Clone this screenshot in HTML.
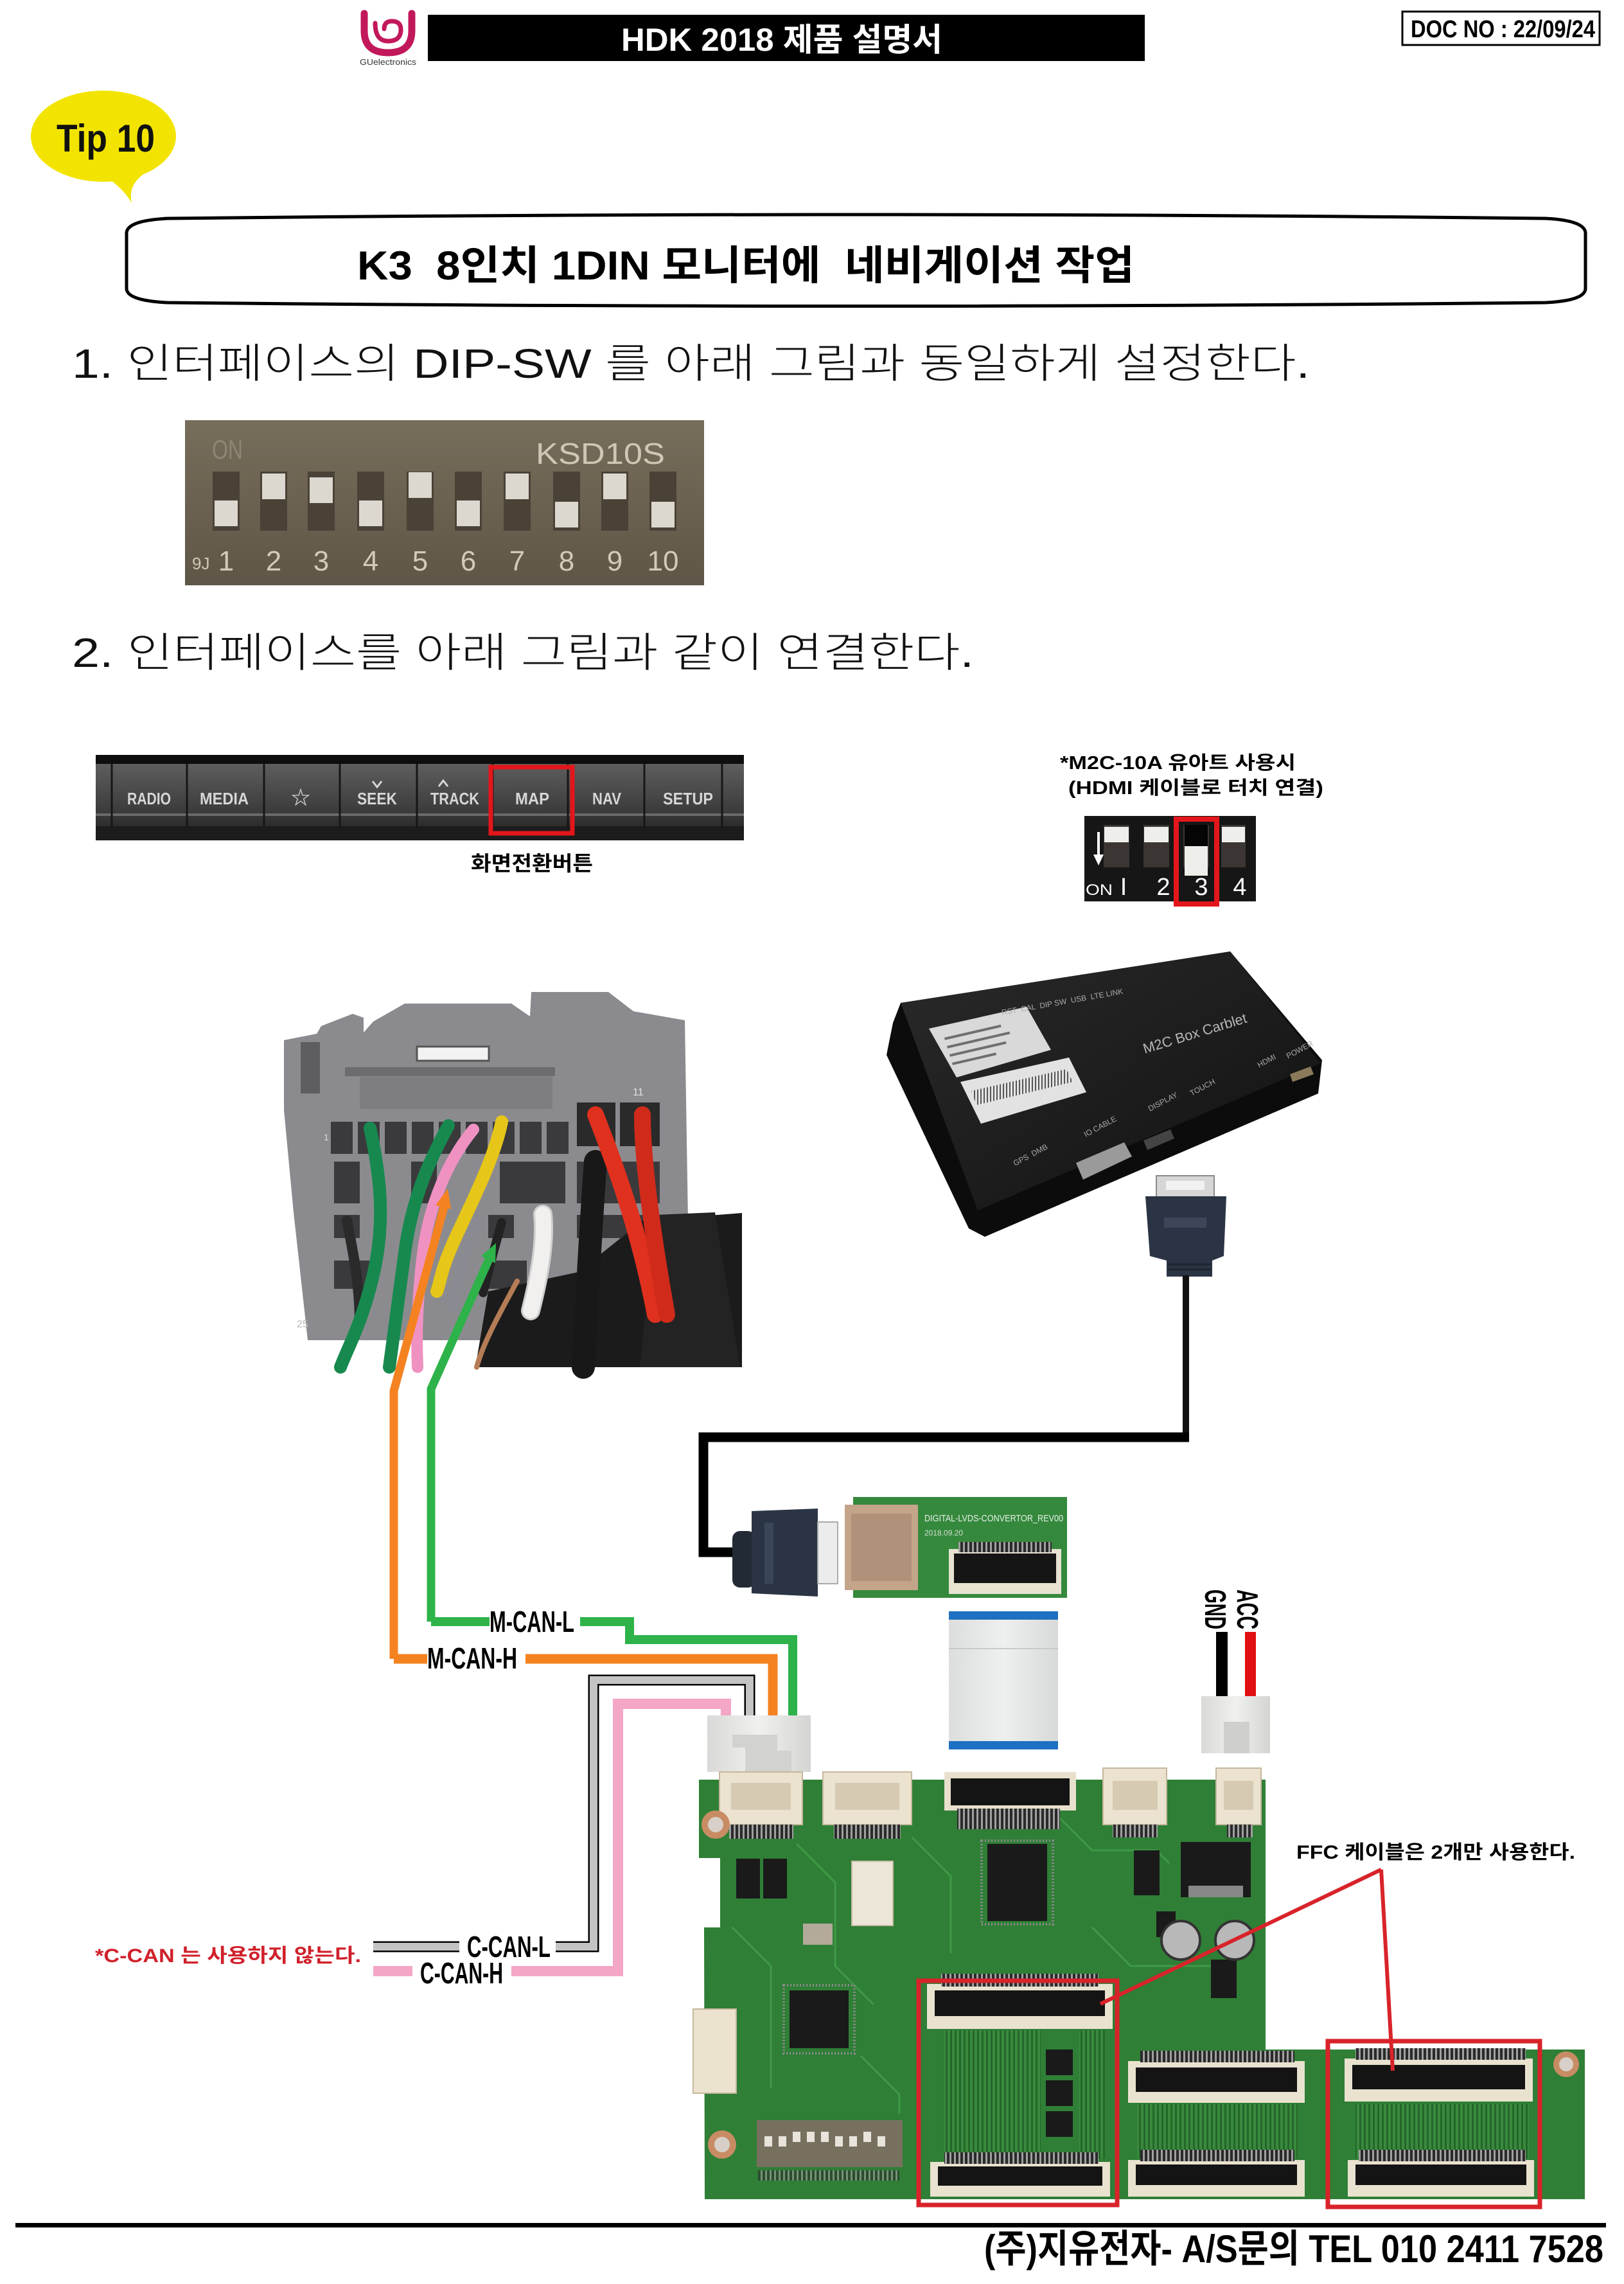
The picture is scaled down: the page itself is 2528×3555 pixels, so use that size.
<!DOCTYPE html>
<html><head><meta charset="utf-8">
<style>
html,body{margin:0;padding:0;background:#fff;}
svg{display:block;}
text{white-space:pre;}
</style></head><body>
<svg xmlns="http://www.w3.org/2000/svg" width="2528" height="3555" viewBox="0 0 2528 3555" font-family="'Liberation Sans','Noto Sans CJK KR',sans-serif" xml:space="preserve">
<defs>
<linearGradient id="dipg" x1="0" y1="0" x2="0" y2="1"><stop offset="0" stop-color="#776d5b"/><stop offset="1" stop-color="#5e5647"/></linearGradient>
<linearGradient id="btng" x1="0" y1="0" x2="0" y2="1"><stop offset="0" stop-color="#5e5e5e"/><stop offset="0.75" stop-color="#3c3c3c"/><stop offset="1" stop-color="#2c2c2c"/></linearGradient>
<linearGradient id="boxg" x1="0" y1="0" x2="1" y2="1"><stop offset="0" stop-color="#2a2a2a"/><stop offset="1" stop-color="#111"/></linearGradient>
<linearGradient id="cong" x1="0" y1="0" x2="1" y2="0"><stop offset="0" stop-color="#d9d9d7"/><stop offset="0.5" stop-color="#f0f0ee"/><stop offset="1" stop-color="#d4d4d2"/></linearGradient>
<linearGradient id="ffcg" x1="0" y1="0" x2="1" y2="0"><stop offset="0" stop-color="#dcdedd"/><stop offset="0.5" stop-color="#eef0ef"/><stop offset="1" stop-color="#d8dad9"/></linearGradient>
<pattern id="pins" width="7" height="10" patternUnits="userSpaceOnUse"><rect width="7" height="10" fill="#2a2a2a"/><rect x="1" width="3" height="10" fill="#a0a0a0"/></pattern>
<pattern id="traces" width="7" height="10" patternUnits="userSpaceOnUse"><rect width="7" height="10" fill="#3a8a3e"/><rect x="2" width="3" height="10" fill="#24672a"/></pattern>
<pattern id="bar" width="5" height="10" patternUnits="userSpaceOnUse"><rect width="5" height="10" fill="#e4e4e4"/><rect x="1" width="2" height="10" fill="#333"/></pattern>
</defs>
<rect width="2528" height="3555" fill="#fff"/>

<!-- ===== HEADER ===== -->
<g fill="none" stroke="#c2185b" stroke-linecap="round">
<path d="M567 21 L567 48 Q567 82 604 82 Q641 82 641 48 L641 21" stroke-width="11"/>
<path d="M584 36 Q584 64 604 64 Q624 64 624 46 Q624 33 610 33 Q598 33 598 45" stroke-width="7"/>
</g>
<text x="560" y="101" font-size="13" fill="#333" textLength="88" lengthAdjust="spacingAndGlyphs">GUelectronics</text>
<rect x="666" y="23" width="1116" height="72" fill="#000"/>
<text x="967" y="79" font-size="50" font-weight="bold" fill="#fff" textLength="500" lengthAdjust="spacingAndGlyphs">HDK 2018 제품 설명서</text>
<rect x="2183" y="18" width="307" height="52" fill="#fff" stroke="#000" stroke-width="3"/>
<text x="2196" y="58" font-size="38" font-weight="bold" fill="#000" textLength="287" lengthAdjust="spacingAndGlyphs">DOC NO : 22/09/24</text>

<!-- Tip bubble -->
<ellipse cx="161" cy="212" rx="113" ry="71" fill="#f2e400"/>
<path d="M148 266 Q188 286 205 316 Q199 290 222 272 Z" fill="#f2e400"/>
<text x="88" y="236" font-size="60" font-weight="bold" fill="#111" textLength="153" lengthAdjust="spacingAndGlyphs">Tip 10</text>

<!-- Title box -->
<path d="M197 362 Q199 343 261 340 Q1333 328 2406 340 Q2466 343 2468 362 L2468 450 Q2466 468 2406 471 Q1333 482 261 471 Q199 468 197 450 Z" fill="#fff" stroke="#000" stroke-width="5"/>
<text x="556" y="435" font-size="63" font-weight="bold" fill="#000" textLength="1210" lengthAdjust="spacingAndGlyphs">K3  8인치 1DIN 모니터에  네비게이션 작업</text>

<!-- Step 1 -->
<text x="112" y="588" font-size="64" font-weight="300" fill="#111" textLength="1927" lengthAdjust="spacingAndGlyphs">1. 인터페이스의 DIP-SW 를 아래 그림과 동일하게 설정한다.</text>

<!-- Big DIP photo -->
<rect x="288" y="654" width="808" height="257" fill="url(#dipg)"/>
<text x="330" y="714" font-size="42" fill="#8e8675" textLength="48" lengthAdjust="spacingAndGlyphs">ON</text>
<text x="834" y="722" font-size="46" fill="#cfc7b6" textLength="201" lengthAdjust="spacingAndGlyphs">KSD10S</text>
<g fill="#4a4236">
<rect x="331" y="734" width="42" height="92"/><rect x="405" y="734" width="42" height="92"/><rect x="479" y="734" width="42" height="92"/><rect x="556" y="734" width="42" height="92"/><rect x="633" y="734" width="42" height="92"/><rect x="708" y="734" width="42" height="92"/><rect x="784" y="734" width="42" height="92"/><rect x="861" y="734" width="42" height="92"/><rect x="936" y="734" width="42" height="92"/><rect x="1011" y="734" width="42" height="92"/>
</g>
<g fill="#dcd8d0">
<rect x="334" y="779" width="36" height="40"/>
<rect x="408" y="737" width="36" height="40"/>
<rect x="482" y="743" width="36" height="40"/>
<rect x="559" y="779" width="36" height="40"/>
<rect x="636" y="735" width="36" height="40"/>
<rect x="711" y="779" width="36" height="40"/>
<rect x="787" y="737" width="36" height="40"/>
<rect x="864" y="781" width="36" height="40"/>
<rect x="939" y="737" width="36" height="40"/>
<rect x="1014" y="781" width="36" height="40"/>
</g>
<g font-size="44" fill="#d2cabb" text-anchor="middle">
<text x="352" y="888">1</text><text x="426" y="888">2</text><text x="500" y="888">3</text><text x="577" y="888">4</text><text x="654" y="888">5</text><text x="729" y="888">6</text><text x="805" y="888">7</text><text x="882" y="888">8</text><text x="957" y="888">9</text><text x="1032" y="888">10</text>
</g>
<text x="299" y="886" font-size="26" fill="#cfc7b6">9J</text>

<!-- Step 2 -->
<text x="112" y="1038" font-size="64" font-weight="300" fill="#111" textLength="1404" lengthAdjust="spacingAndGlyphs">2. 인터페이스를 아래 그림과 같이 연결한다.</text>

<!-- Button bar -->
<rect x="149" y="1175" width="1009" height="133" fill="#262626"/>
<rect x="149" y="1175" width="1009" height="14" fill="#0e0e0e"/>
<rect x="149" y="1189" width="1009" height="97" fill="url(#btng)"/>
<rect x="149" y="1266" width="1009" height="4" fill="#6a6a6a"/>
<rect x="149" y="1286" width="1009" height="22" fill="#1c1c1c"/>
<g stroke="#161616" stroke-width="3">
<line x1="174" y1="1189" x2="174" y2="1288"/><line x1="291" y1="1189" x2="291" y2="1288"/><line x1="411" y1="1189" x2="411" y2="1288"/><line x1="529" y1="1189" x2="529" y2="1288"/><line x1="649" y1="1189" x2="649" y2="1288"/><line x1="767" y1="1189" x2="767" y2="1288"/><line x1="884" y1="1189" x2="884" y2="1288"/><line x1="1003" y1="1189" x2="1003" y2="1288"/><line x1="1124" y1="1189" x2="1124" y2="1288"/>
</g>
<g font-size="26" font-weight="bold" fill="#d6d6d6">
<text x="198" y="1252" textLength="68" lengthAdjust="spacingAndGlyphs">RADIO</text>
<text x="311" y="1252" textLength="76" lengthAdjust="spacingAndGlyphs">MEDIA</text>
<text x="468" y="1252" text-anchor="middle" font-size="30">☆</text>
<text x="556" y="1252" textLength="62" lengthAdjust="spacingAndGlyphs">SEEK</text>
<text x="670" y="1252" textLength="76" lengthAdjust="spacingAndGlyphs">TRACK</text>
<text x="802" y="1252" textLength="53" lengthAdjust="spacingAndGlyphs">MAP</text>
<text x="922" y="1252" textLength="45" lengthAdjust="spacingAndGlyphs">NAV</text>
<text x="1032" y="1252" textLength="78" lengthAdjust="spacingAndGlyphs">SETUP</text>
</g>
<path d="M580 1216 L587 1225 L594 1216" fill="none" stroke="#d6d6d6" stroke-width="3"/>
<path d="M683 1224 L690 1215 L697 1224" fill="none" stroke="#d6d6d6" stroke-width="3"/>
<rect x="764" y="1194" width="127" height="103" fill="none" stroke="#e3161b" stroke-width="7"/>
<text x="733" y="1355" font-size="32" font-weight="bold" fill="#000" textLength="190" lengthAdjust="spacingAndGlyphs">화면전환버튼</text>

<!-- M2C note + small DIP -->
<text x="1650" y="1197" font-size="29" font-weight="bold" fill="#000" textLength="367" lengthAdjust="spacingAndGlyphs">*M2C-10A 유아트 사용시</text>
<text x="1663" y="1236" font-size="29" font-weight="bold" fill="#000" textLength="397" lengthAdjust="spacingAndGlyphs">(HDMI 케이블로 터치 연결)</text>
<rect x="1688" y="1270" width="267" height="133" fill="#161616"/>
<g fill="#3b3633">
<rect x="1718" y="1284" width="40" height="66"/><rect x="1780" y="1284" width="40" height="66"/><rect x="1842" y="1284" width="40" height="66"/><rect x="1901" y="1284" width="38" height="66"/>
</g>
<g fill="#eeeeea">
<rect x="1719" y="1287" width="38" height="24"/><rect x="1781" y="1287" width="38" height="24"/><rect x="1902" y="1287" width="36" height="24"/>
<rect x="1844" y="1317" width="36" height="46"/>
</g>
<rect x="1844" y="1284" width="36" height="33" fill="#050505"/>
<line x1="1710" y1="1295" x2="1710" y2="1332" stroke="#fff" stroke-width="4"/>
<polygon points="1702,1330 1718,1330 1710,1347" fill="#fff"/>
<text x="1690" y="1393" font-size="24" fill="#fff" textLength="42" lengthAdjust="spacingAndGlyphs">ON</text>
<g font-size="38" fill="#fff" text-anchor="middle">
<text x="1749" y="1393">I</text><text x="1811" y="1393">2</text><text x="1870" y="1393">3</text><text x="1930" y="1393">4</text>
</g>
<rect x="1831" y="1275" width="63" height="132" fill="none" stroke="#e3161b" stroke-width="8"/>

<!-- M2C box -->
<path d="M1390 1592 L1402 1561 L1915 1481 L2058 1650 L2052 1702 L1533 1925 L1508 1912 L1380 1642 Z" fill="#0c0c0c"/>
<path d="M1402 1561 L1915 1481 L2056 1655 L1522 1884 Z" fill="url(#boxg)"/>
<path d="M1446 1601 L1598 1567 L1636 1634 L1489 1677 Z" fill="#d9d9d9"/>
<path d="M1495 1684 L1664 1646 L1691 1700 L1527 1749 Z" fill="#e2e2e2"/>
<path d="M1512 1698 L1660 1664 L1670 1684 L1520 1720 Z" fill="url(#bar)" opacity="0.8"/>
<g fill="#555" opacity="0.8">
<rect x="1470" y="1615" width="90" height="4" transform="rotate(-13 1470 1615)"/>
<rect x="1474" y="1628" width="100" height="4" transform="rotate(-13 1474 1628)"/>
<rect x="1478" y="1641" width="90" height="4" transform="rotate(-13 1478 1641)"/>
<rect x="1482" y="1654" width="70" height="4" transform="rotate(-13 1482 1654)"/>
</g>
<text x="1782" y="1640" font-size="22" fill="#b8b8b8" transform="rotate(-17 1782 1640)">M2C Box Carblet</text>
<g font-size="12" fill="#aaa">
<text x="1580" y="1815" transform="rotate(-28 1580 1815)">GPS  DMB</text>
<text x="1690" y="1770" transform="rotate(-28 1690 1770)">IO CABLE</text>
<text x="1790" y="1730" transform="rotate(-28 1790 1730)">DISPLAY</text>
<text x="1855" y="1706" transform="rotate(-28 1855 1706)">TOUCH</text>
<text x="1960" y="1662" transform="rotate(-28 1960 1662)">HDMI</text>
<text x="2005" y="1648" transform="rotate(-28 2005 1648)">POWER</text>
<text x="1560" y="1580" transform="rotate(-10 1560 1580)">RST  CAL  DIP SW  USB  LTE LINK</text>
</g>
<path d="M1675 1810 L1750 1778 L1762 1800 L1686 1836 Z" fill="#9a9a9a"/>
<path d="M1780 1775 L1822 1758 L1828 1772 L1786 1790 Z" fill="#444"/>
<path d="M2008 1672 L2040 1660 L2045 1672 L2012 1684 Z" fill="#8a7a5a"/>

<!-- HDMI plug near box + cable -->
<rect x="1800" y="1830" width="90" height="33" fill="#d6d6d6" stroke="#8a8a8a" stroke-width="2"/>
<rect x="1815" y="1838" width="60" height="14" fill="#f2f2f2"/>
<path d="M1783 1862 L1909 1862 L1905 1955 L1887 1962 L1887 1987 L1816 1987 L1816 1962 L1790 1955 Z" fill="#2b3444"/>
<rect x="1812" y="1895" width="66" height="16" fill="#3c4658"/>
<g stroke="#1d2430" stroke-width="3"><line x1="1818" y1="1968" x2="1885" y2="1968"/><line x1="1818" y1="1976" x2="1885" y2="1976"/></g>
<line x1="1846" y1="1985" x2="1846" y2="2236" stroke="#111" stroke-width="10"/>
<path d="M1851 2237 L1095 2237 L1095 2416 L1152 2416" fill="none" stroke="#000" stroke-width="15"/>

<!-- Harness connector photo -->
<path d="M442 1619 L493 1609 L500 1597 L549 1578 L566 1584 L566 1607 L581 1590 L630 1562 L796 1562 L825 1582 L827 1544 L947 1544 L986 1574 L1066 1588 L1074 2086 L479 2086 L457 1887 L442 1728 Z" fill="#8b8b8f"/>
<rect x="468" y="1622" width="30" height="80" fill="#5e5e62"/>
<rect x="649" y="1629" width="112" height="22" fill="#f2f2f2" stroke="#555" stroke-width="3"/>
<rect x="537" y="1661" width="327" height="14" fill="#6c6c70"/>
<rect x="560" y="1676" width="300" height="50" fill="#7d7d82"/>
<g fill="#3a3a3c">
<rect x="515" y="1746" width="34" height="50"/><rect x="557" y="1746" width="34" height="50"/><rect x="599" y="1746" width="34" height="50"/><rect x="641" y="1746" width="34" height="50"/><rect x="683" y="1746" width="34" height="50"/><rect x="725" y="1746" width="34" height="50"/><rect x="767" y="1746" width="34" height="50"/><rect x="809" y="1746" width="34" height="50"/><rect x="851" y="1746" width="34" height="50"/>
<rect x="520" y="1808" width="40" height="65"/><rect x="640" y="1808" width="40" height="65"/><rect x="778" y="1808" width="102" height="65"/>
<rect x="898" y="1716" width="60" height="68" fill="#2a2a2a"/><rect x="965" y="1716" width="62" height="68" fill="#2a2a2a"/>
<rect x="898" y="1808" width="129" height="65"/>
<rect x="520" y="1891" width="40" height="36"/><rect x="760" y="1891" width="40" height="36"/><rect x="898" y="1891" width="129" height="36"/>
<rect x="520" y="1962" width="60" height="44"/><rect x="760" y="1962" width="60" height="44"/>
</g>
<text x="985" y="1705" font-size="16" fill="#e4e4e4">11</text>
<text x="504" y="1775" font-size="14" fill="#ddd">1</text>
<text x="462" y="2066" font-size="16" fill="#b8b8b8">25</text>
<!-- black cable mass -->
<path d="M760 2010 L900 1980 L1000 1900 L1155 1888 L1155 2128 L740 2128 Z" fill="#1b1b1b"/>
<path d="M1020 1891 L1113 1887 L1152 2128 L996 2128 Z" fill="#232323"/>
<g fill="none" stroke-linecap="round">
<path d="M540 1900 C550 1950 560 2000 560 2060" stroke="#2a2a2a" stroke-width="16"/>
<path d="M576 1756 C592 1830 600 1900 582 1980 S540 2100 530 2128" stroke="#17894f" stroke-width="20"/>
<path d="M781 1746 C770 1800 740 1860 712 1920 S686 1995 680 2010" stroke="#e6c619" stroke-width="20"/>
<path d="M698 1752 C672 1800 642 1860 630 1950 S611 2090 606 2128" stroke="#17894f" stroke-width="20"/>
<path d="M737 1758 C702 1800 667 1870 657 1960 S649 2100 650 2128" stroke="#ef92c2" stroke-width="18"/>
<path d="M742 1903 C725 1940 712 1990 706 2032" stroke="#8a8a92" stroke-width="18"/>
<path d="M781 1903 C770 1940 760 1980 752 2012" stroke="#222" stroke-width="14"/>
<path d="M805 1994 C780 2040 752 2090 742 2128" stroke="#b57c55" stroke-width="8"/>
<path d="M845 1890 C850 1940 836 2000 826 2040" stroke="#cfcfcf" stroke-width="30"/>
<path d="M845 1890 C850 1940 836 2000 826 2040" stroke="#f2f0ee" stroke-width="24"/>
<path d="M927 1808 C920 1900 915 2000 908 2128" stroke="#181818" stroke-width="36"/>
<path d="M927 1735 C952 1800 992 1900 1020 2046" stroke="#e0301e" stroke-width="26"/>
<path d="M1000 1735 C1000 1800 1012 1900 1038 2046" stroke="#cf2a1a" stroke-width="26"/>
</g>
<!-- arrows -->
<path d="M693 1872 L613 2165 L613 2582" fill="none" stroke="#f58220" stroke-width="13"/>
<polygon points="697,1850 678,1876 702,1882" fill="#f58220"/>
<path d="M762 1958 L671 2162 L671 2524" fill="none" stroke="#2db34a" stroke-width="13"/>
<polygon points="772,1935 749,1955 771,1966" fill="#2db34a"/>

<!-- Wires to connector -->
<path d="M671 2524 L762 2524 M903 2524 L980 2524 L980 2552 L1234 2552 L1234 2672" fill="none" stroke="#2db34a" stroke-width="14"/>
<path d="M613 2582 L665 2582 M818 2582 L1203 2582 L1203 2672" fill="none" stroke="#f58220" stroke-width="15"/>
<path d="M581 3030 L715 3030 M865 3030 L924 3030 L924 2615 L1167 2615 L1167 2672" fill="none" stroke="#000" stroke-width="17"/>
<path d="M581 3030 L715 3030 M865 3030 L924 3030 L924 2615 L1167 2615 L1167 2672" fill="none" stroke="#c4c4c4" stroke-width="12"/>
<path d="M581 3068 L642 3068 M796 3068 L962 3068 L962 2652 L1130 2652 L1130 2672" fill="none" stroke="#f4a6c6" stroke-width="16"/>
<g font-weight="bold" fill="#000" font-size="46">
<text x="762" y="2540" textLength="132" lengthAdjust="spacingAndGlyphs">M-CAN-L</text>
<text x="665" y="2597" textLength="140" lengthAdjust="spacingAndGlyphs">M-CAN-H</text>
<text x="727" y="3046" textLength="130" lengthAdjust="spacingAndGlyphs">C-CAN-L</text>
<text x="654" y="3087" textLength="129" lengthAdjust="spacingAndGlyphs">C-CAN-H</text>
</g>
<text x="148" y="3054" font-size="30" font-weight="bold" fill="#d0202a" textLength="414" lengthAdjust="spacingAndGlyphs">*C-CAN 는 사용하지 않는다.</text>

<!-- Converter board + HDMI plug -->
<rect x="1328" y="2330" width="333" height="157" fill="#35893d"/>
<rect x="1315" y="2342" width="114" height="133" fill="#c4a58a"/>
<rect x="1325" y="2356" width="94" height="105" fill="#b0917a"/>
<rect x="1477" y="2411" width="175" height="70" fill="#e8e2d2"/>
<rect x="1485" y="2418" width="159" height="46" fill="#151515"/>
<rect x="1492" y="2400" width="145" height="16" fill="url(#pins)"/>
<text x="1439" y="2368" font-size="15" fill="#e6eee6" textLength="216" lengthAdjust="spacingAndGlyphs">DIGITAL-LVDS-CONVERTOR_REV00</text>
<text x="1439" y="2390" font-size="12" fill="#cfe0cf">2018.09.20</text>
<rect x="1140" y="2383" width="36" height="88" rx="12" fill="#222a36"/>
<path d="M1170 2352 L1273 2348 L1273 2485 L1170 2480 Z" fill="#2b3444"/>
<rect x="1190" y="2370" width="14" height="95" fill="#3b4558"/>
<rect x="1273" y="2369" width="31" height="96" fill="#ececec" stroke="#aaa" stroke-width="2"/>

<!-- FFC cable -->
<rect x="1477" y="2508" width="170" height="215" fill="url(#ffcg)"/>
<rect x="1477" y="2508" width="170" height="13" fill="#1e70c2"/>
<rect x="1477" y="2710" width="170" height="13" fill="#1e70c2"/>
<rect x="1477" y="2565" width="170" height="2" fill="#c8cac9"/>

<!-- ACC / GND -->
<text font-size="46" font-weight="bold" fill="#000" textLength="62" lengthAdjust="spacingAndGlyphs" transform="translate(1926 2474) rotate(90)">ACC</text>
<text font-size="46" font-weight="bold" fill="#000" textLength="62" lengthAdjust="spacingAndGlyphs" transform="translate(1876 2474) rotate(90)">GND</text>
<rect x="1893" y="2540" width="18" height="102" fill="#000"/>
<rect x="1938" y="2540" width="17" height="102" fill="#e01010"/>
<rect x="1870" y="2640" width="107" height="89" fill="url(#cong)"/>
<rect x="1905" y="2680" width="40" height="49" fill="#cfcfcd"/>

<!-- Main connector plug -->
<rect x="1101" y="2670" width="161" height="88" fill="url(#cong)"/>
<path d="M1140 2700 L1210 2700 L1210 2725 L1232 2725 L1232 2758 L1160 2758 L1160 2720 L1140 2720 Z" fill="#d2d2d0"/>

<!-- Main board -->
<path d="M1088 2770 L1970 2770 L1970 3190 L2467 3190 L2467 3423 L1097 3423 L1096 3000 L1121 3000 L1121 2892 L1088 2892 Z" fill="#2f7f36"/>
<g fill="none" stroke="#3f9a46" stroke-width="3">
<path d="M1240 2870 L1300 2930 L1300 3060 L1360 3120"/>
<path d="M1420 2860 L1480 2920 L1480 3040"/>
<path d="M1650 2830 L1700 2880 L1800 2880 L1820 2900"/>
<path d="M1140 3000 L1200 3060 L1200 3250"/>
<path d="M1700 3000 L1760 3060 L1900 3060"/>
<path d="M1340 3200 L1400 3260 L1400 3290"/>
</g>
<!-- top connectors -->
<g fill="#ebe2cf" stroke="#c5b79c" stroke-width="2">
<rect x="1120" y="2758" width="129" height="82"/>
<rect x="1281" y="2758" width="138" height="82"/>
<rect x="1717" y="2752" width="99" height="88"/>
<rect x="1893" y="2752" width="70" height="88"/>
</g>
<g fill="#d6cab2"><rect x="1138" y="2775" width="93" height="42"/><rect x="1300" y="2775" width="100" height="42"/><rect x="1732" y="2772" width="70" height="45"/><rect x="1905" y="2772" width="46" height="45"/></g>
<rect x="1135" y="2840" width="100" height="22" fill="url(#pins)"/>
<rect x="1298" y="2840" width="104" height="22" fill="url(#pins)"/>
<rect x="1732" y="2840" width="70" height="20" fill="url(#pins)"/>
<rect x="1910" y="2840" width="40" height="20" fill="url(#pins)"/>
<rect x="1470" y="2758" width="205" height="60" fill="#e8e0cc"/>
<rect x="1480" y="2768" width="185" height="42" fill="#141414"/>
<rect x="1490" y="2815" width="160" height="32" fill="url(#pins)"/>
<!-- holes -->
<circle cx="1114" cy="2840" r="22" fill="#c88c64"/><circle cx="1114" cy="2840" r="12" fill="#d8d0c8"/>
<circle cx="1124" cy="3338" r="22" fill="#c88c64"/><circle cx="1124" cy="3338" r="12" fill="#d8d0c8"/>
<circle cx="2438" cy="3213" r="20" fill="#c88c64"/><circle cx="2438" cy="3213" r="11" fill="#d8d0c8"/>
<!-- chips -->
<g fill="#1a1a1a">
<rect x="1146" y="2893" width="37" height="62"/><rect x="1188" y="2893" width="37" height="62"/>
<rect x="1537" y="2870" width="93" height="120"/>
<rect x="1838" y="2867" width="109" height="86"/>
<rect x="1229" y="3098" width="92" height="90"/>
<rect x="1628" y="3190" width="42" height="40"/><rect x="1628" y="3238" width="42" height="40"/><rect x="1628" y="3286" width="42" height="40"/>
<rect x="1765" y="2880" width="40" height="70"/>
<rect x="1800" y="2975" width="30" height="40"/>
<rect x="1885" y="3050" width="40" height="60"/>
</g>
<rect x="1528" y="2865" width="111" height="130" fill="none" stroke="#8a8a8a" stroke-width="4" stroke-dasharray="2 3"/>
<rect x="1220" y="3090" width="110" height="106" fill="none" stroke="#8a8a8a" stroke-width="4" stroke-dasharray="2 3"/>
<rect x="1850" y="2935" width="85" height="18" fill="#888"/>
<rect x="1326" y="2897" width="64" height="100" fill="#ece6d8" stroke="#c8bda6" stroke-width="2"/>
<rect x="1250" y="2994" width="46" height="33" fill="#b3aa9a"/>
<rect x="1079" y="3127" width="67" height="131" fill="#ece3cf" stroke="#c5b79c" stroke-width="2"/>
<circle cx="1838" cy="3020" r="30" fill="#b8b8b8" stroke="#333" stroke-width="4"/>
<circle cx="1922" cy="3020" r="30" fill="#b8b8b8" stroke="#333" stroke-width="4"/>
<!-- board DIP -->
<rect x="1178" y="3300" width="227" height="73" fill="#77705f"/>
<g fill="#e8e4dc">
<rect x="1190" y="3325" width="12" height="16"/><rect x="1212" y="3325" width="12" height="16"/><rect x="1234" y="3318" width="12" height="16"/><rect x="1256" y="3318" width="12" height="16"/><rect x="1278" y="3318" width="12" height="16"/><rect x="1300" y="3325" width="12" height="16"/><rect x="1322" y="3325" width="12" height="16"/><rect x="1344" y="3318" width="12" height="16"/><rect x="1366" y="3325" width="12" height="16"/>
</g>
<rect x="1180" y="3378" width="220" height="16" fill="url(#pins)" opacity="0.6"/>
<!-- trace fields -->
<rect x="1470" y="3160" width="150" height="200" fill="url(#traces)"/>
<rect x="1680" y="3160" width="40" height="200" fill="url(#traces)"/>
<rect x="1770" y="3275" width="250" height="85" fill="url(#traces)"/>
<rect x="2110" y="3275" width="270" height="85" fill="url(#traces)"/>
<!-- bottom FFC connectors -->
<g fill="#e9e2cf">
<rect x="1443" y="3088" width="289" height="70"/><rect x="1448" y="3365" width="280" height="54"/>
<rect x="1756" y="3208" width="275" height="65"/><rect x="1756" y="3362" width="275" height="57"/>
<rect x="2093" y="3204" width="293" height="67"/><rect x="2098" y="3362" width="290" height="57"/>
</g>
<g fill="#141414">
<rect x="1455" y="3098" width="265" height="40"/><rect x="1460" y="3372" width="256" height="30"/>
<rect x="1768" y="3218" width="251" height="38"/><rect x="1768" y="3369" width="251" height="32"/>
<rect x="2105" y="3214" width="269" height="38"/><rect x="2110" y="3369" width="266" height="32"/>
</g>
<g fill="url(#pins)">
<rect x="1465" y="3072" width="245" height="20"/><rect x="1470" y="3350" width="240" height="18"/>
<rect x="1775" y="3192" width="240" height="18"/><rect x="1775" y="3346" width="240" height="18"/>
<rect x="2110" y="3188" width="265" height="18"/><rect x="2115" y="3346" width="260" height="18"/>
</g>
<!-- red highlights -->
<rect x="1430" y="3083" width="309" height="349" fill="none" stroke="#d8232a" stroke-width="7"/>
<rect x="2067" y="3177" width="330" height="258" fill="none" stroke="#d8232a" stroke-width="7"/>
<path d="M2150 2910 L1713 3119 M2150 2910 L2168 3223" fill="none" stroke="#d8232a" stroke-width="6"/>
<text x="2018" y="2893" font-size="30" font-weight="bold" fill="#000" textLength="434" lengthAdjust="spacingAndGlyphs">FFC 케이블은 2개만 사용한다.</text>

<!-- Footer -->
<rect x="24" y="3460" width="2476" height="7" fill="#000"/>
<text x="1532" y="3521" font-size="60" font-weight="bold" fill="#000" textLength="964" lengthAdjust="spacingAndGlyphs">(주)지유전자- A/S문의 TEL 010 2411 7528</text>
</svg>
</body></html>
